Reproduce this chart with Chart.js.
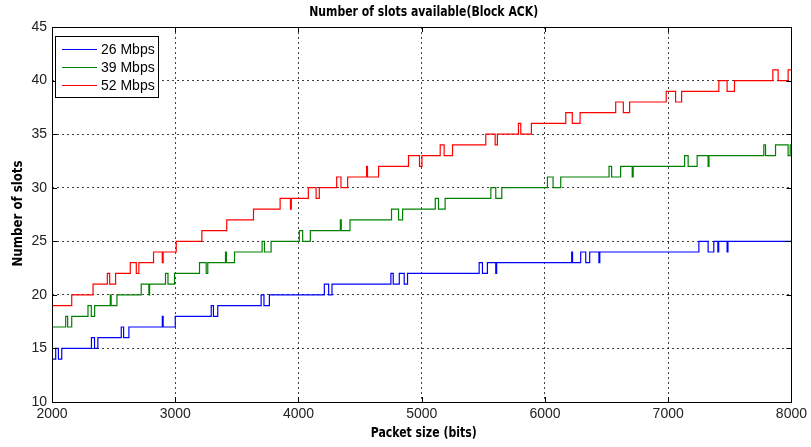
<!DOCTYPE html>
<html>
<head>
<meta charset="utf-8">
<script src="https://cdn.jsdelivr.net/npm/chart.js@4/dist/chart.umd.min.js"></script>
<style>
html,body{margin:0;padding:0;background:#fff;}
#wrap{width:811px;height:447px;position:relative;}
</style>
</head>
<body>
<div id="wrap"><canvas id="c"></canvas></div>
<script>
// ---- data (step transitions: from x onward the value is y) ----
const seriesLabels = ['26 Mbps', '39 Mbps', '52 Mbps'];
const seriesColors = ['#0000ff', '#008000', '#ff0000'];

const x26 = [2000,2030,2052,2079,2320,2345,2372,2562,2581,2624,2895,2902,3000,3292,3310,3345,3697,3720,3764,4210,4245,4272,4750,4769,4818,4858,4885,5466,5493,5533,5601,5608,6217,6224,6290,6331,6363,6438,6445,7249,7324,7370,7403,7410,7478,7485,8000];
const y26 = [14,15,14,15,16,15,16,17,16,17,18,17,18,19,18,19,20,19,20,21,20,21,22,21,22,21,22,23,22,23,22,23,24,23,24,23,24,23,24,25,24,25,24,25,24,25,25];

const x39 = [2000,2111,2127,2160,2292,2319,2346,2473,2480,2527,2724,2786,2792,2921,2941,2994,3197,3251,3264,3408,3415,3481,3705,3724,3778,4007,4034,4096,4340,4347,4418,4755,4812,4845,5110,5136,5190,5561,5601,5650,6020,6066,6128,6520,6541,6614,6708,6716,7133,7162,7235,7324,7331,7776,7790,7871,7973,7990,8000];
const y39 = [17,18,17,18,19,18,19,20,19,20,21,20,21,22,21,22,23,22,23,24,23,24,25,24,25,26,25,26,27,26,27,28,27,28,29,28,29,30,29,30,31,30,31,32,31,32,31,32,33,32,33,32,33,34,33,34,33,34,34];

const x52 = [2000,2160,2333,2449,2468,2516,2635,2684,2705,2824,2895,2902,3008,3216,3418,3635,3851,3935,3942,4080,4143,4169,4310,4345,4399,4553,4560,4650,4893,4982,5002,5150,5182,5250,5520,5596,5614,5785,5804,5890,6169,6222,6285,6574,6636,6687,6984,7060,7109,7411,7478,7538,7849,7892,7973,8000];
const y52 = [19,20,21,22,21,22,23,22,23,24,23,24,25,26,27,28,29,28,29,30,29,30,31,30,31,32,31,32,33,32,33,34,33,34,35,34,35,36,35,36,37,36,37,38,37,38,39,38,39,40,39,40,41,40,41,41];

const xTicks = [2000,3000,4000,5000,6000,7000,8000];
const yTicks = [10,15,20,25,30,35,40,45];

const titleText = 'Number of slots available(Block ACK)';
const xTitle = 'Packet size (bits)';
const yTitle = 'Number of slots';

function pts(xs, ys){ return xs.map((x,i)=>({x:x, y:ys[i]})); }
const allX = [x26, x39, x52], allY = [y26, y39, y52];

const boldFont = "bold 14px 'DejaVu Sans Condensed','DejaVu Sans',sans-serif";
const sans = "'Liberation Sans',Arial,sans-serif";

// draw text squeezed horizontally to a target width (still real text)
function squeezed(ctx, text, cx, cy, targetW, rot){
  ctx.save();
  ctx.font = boldFont;
  ctx.textAlign = 'center'; ctx.textBaseline = 'middle';
  const w = ctx.measureText(text).width;
  ctx.translate(cx, cy);
  if (rot) ctx.rotate(rot);
  ctx.scale(targetW / w, 1);
  ctx.fillStyle = '#000';
  ctx.fillText(text, 0, 0);
  ctx.restore();
}

const framePlugin = {
  id: 'frame',
  afterDraw(chart){
    const ctx = chart.ctx, a = chart.chartArea;
    const xs = chart.scales.x, ys = chart.scales.y;
    ctx.save();
    // inward tick marks
    ctx.strokeStyle = '#000'; ctx.lineWidth = 1; ctx.setLineDash([]);
    ctx.beginPath();
    xTicks.forEach(v=>{
      const px = Math.round(xs.getPixelForValue(v)) + 0.5;
      ctx.moveTo(px, a.bottom); ctx.lineTo(px, a.bottom - 5);
      ctx.moveTo(px, a.top); ctx.lineTo(px, a.top + 5);
    });
    yTicks.forEach(v=>{
      const py = Math.round(ys.getPixelForValue(v)) + 0.5;
      ctx.moveTo(a.left, py); ctx.lineTo(a.left + 5, py);
      ctx.moveTo(a.right, py); ctx.lineTo(a.right - 5, py);
    });
    ctx.stroke();
    // frame
    ctx.strokeRect(Math.round(a.left)+0.5, Math.round(a.top)+0.5, Math.round(a.right - a.left), Math.round(a.bottom - a.top));
    ctx.restore();
    // titles
    const cx = (a.left + a.right)/2;
    squeezed(ctx, titleText, cx + 2, 12, 229, 0);
    squeezed(ctx, xTitle, cx + 2, 433, 106, 0);
    squeezed(ctx, yTitle, 18, (a.top + a.bottom)/2 - 1, 106, -Math.PI/2);
    // legend
    ctx.save();
    const lx = 55.5, ly = 36.5, lw = 103, lh = 61;
    ctx.fillStyle = '#fff';
    ctx.fillRect(lx, ly, lw, lh);
    ctx.strokeStyle = '#000'; ctx.lineWidth = 1;
    ctx.strokeRect(lx, ly, lw, lh);
    ctx.font = '14px ' + sans;
    ctx.textAlign = 'left'; ctx.textBaseline = 'middle';
    chart.data.datasets.forEach((ds, i)=>{
      const yy = 49.5 + i*18;
      ctx.strokeStyle = ds.borderColor; ctx.lineWidth = 1.2;
      ctx.beginPath(); ctx.moveTo(62, yy); ctx.lineTo(97, yy); ctx.stroke();
      ctx.fillStyle = '#000';
      ctx.fillText(ds.label, 101, yy + 0.5);
    });
    ctx.restore();
  }
};

new Chart(document.getElementById('c'), {
  type: 'line',
  data: {
    datasets: seriesLabels.map((lab, i)=>({
      label: lab,
      data: pts(allX[i], allY[i]),
      borderColor: seriesColors[i],
      backgroundColor: seriesColors[i],
      borderWidth: 1.2,
      pointRadius: 0,
      stepped: 'before',
      tension: 0,
      fill: false
    }))
  },
  options: {
    responsive: true,
    maintainAspectRatio: false,
    devicePixelRatio: 1,
    animation: false,
    events: [],
    layout: { padding: { left: 0, right: 18, top: 27, bottom: 0 } },
    plugins: { legend: { display: false }, title: { display: false }, tooltip: { enabled: false } },
    scales: {
      x: {
        type: 'linear', min: 2000, max: 8000,
        afterFit(s){ s.height = 45; },
        afterBuildTicks(s){ s.ticks = xTicks.map(v=>({value:v})); },
        ticks: { color: '#222', font: { family: sans, size: 14 }, padding: 4, maxRotation: 0, autoSkip: false,
                 callback: v => String(v) },
        grid: { color: 'rgba(0,0,0,0.75)', lineWidth: 1, drawTicks: false },
        border: { display: false, dash: [2, 3] },
        title: { display: false }
      },
      y: {
        type: 'linear', min: 10, max: 45,
        afterFit(s){ s.width = 52; },
        afterBuildTicks(s){ s.ticks = yTicks.map(v=>({value:v})); },
        ticks: { color: '#222', font: { family: sans, size: 14 }, padding: 5, autoSkip: false,
                 callback: v => String(v) },
        grid: { color: 'rgba(0,0,0,0.75)', lineWidth: 1, drawTicks: false },
        border: { display: false, dash: [2, 3] },
        title: { display: false }
      }
    }
  },
  plugins: [framePlugin]
});
</script>
</body>
</html>
